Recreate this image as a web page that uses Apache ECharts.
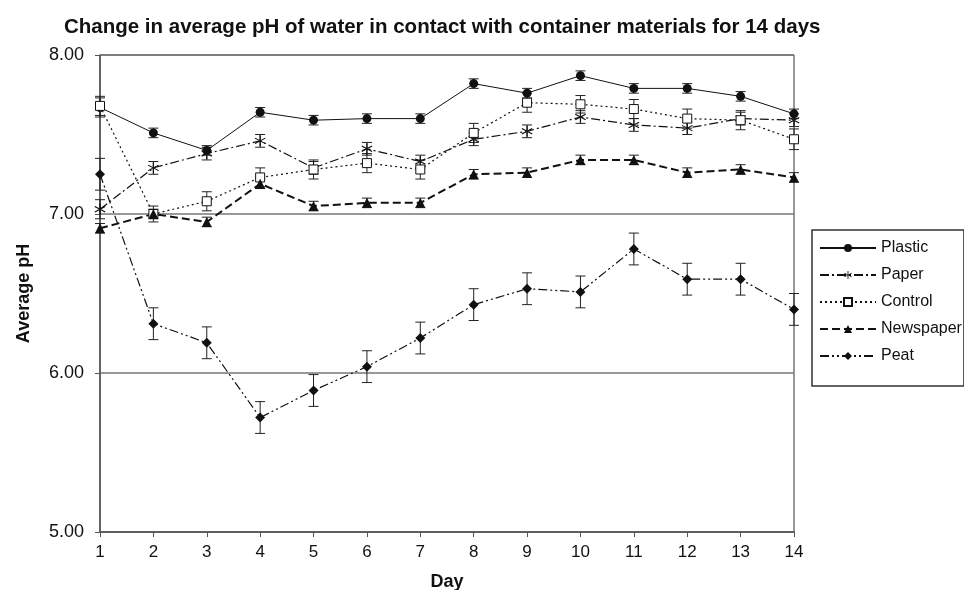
<!DOCTYPE html>
<html>
<head>
<meta charset="utf-8">
<script src="https://cdn.jsdelivr.net/npm/echarts@6/dist/echarts.min.js"></script>
<style>html,body{margin:0;padding:0;background:#fff}#c{width:964px;height:590px}</style>
</head>
<body>
<div id="c"></div>
<script>
var days = [1,2,3,4,5,6,7,8,9,10,11,12,13,14];
var yTicks = [5, 6, 7, 8];
var seriesNames = ['Plastic', 'Paper', 'Control', 'Newspaper', 'Peat'];
var plastic    = [7.67,7.51,7.40,7.64,7.59,7.60,7.60,7.82,7.76,7.87,7.79,7.79,7.74,7.63];
var plasticErr = [0.06,0.03,0.03,0.03,0.03,0.03,0.03,0.03,0.03,0.03,0.03,0.03,0.03,0.03];
var paper      = [7.03,7.29,7.38,7.46,7.29,7.41,7.33,7.47,7.52,7.61,7.56,7.54,7.60,7.59];
var paperErr   = [0.06,0.04,0.04,0.04,0.04,0.04,0.04,0.04,0.04,0.04,0.04,0.04,0.04,0.04];
var control    = [7.68,7.00,7.08,7.23,7.28,7.32,7.28,7.51,7.70,7.69,7.66,7.60,7.59,7.47];
var controlErr = [0.06,0.05,0.06,0.06,0.06,0.06,0.06,0.06,0.06,0.055,0.06,0.06,0.06,0.065];
var newspaper  = [6.91,7.00,6.95,7.19,7.05,7.07,7.07,7.25,7.26,7.34,7.34,7.26,7.28,7.23];
var newsErr    = [0.03,0.03,0.03,0.03,0.03,0.03,0.03,0.03,0.03,0.03,0.03,0.03,0.03,0.03];
var peat       = [7.25,6.31,6.19,5.72,5.89,6.04,6.22,6.43,6.53,6.51,6.78,6.59,6.59,6.40];
var peatErr    = [0.10,0.10,0.10,0.10,0.10,0.10,0.10,0.10,0.10,0.10,0.10,0.10,0.10,0.10];

var FONT = '"Liberation Sans", Arial, sans-serif';
var asterisk = 'path://M-1,-10 L1,-10 L1,10 L-1,10 Z M8.16,5.87 L9.16,4.13 L-8.16,-5.87 L-9.16,-4.13 Z M-9.16,4.13 L-8.16,5.87 L9.16,-4.13 L8.16,-5.87 Z';

function pairs(v){ return days.map(function(d,i){ return [d, v[i]]; }); }
function errData(v, e){ return days.map(function(d,i){ return [d, v[i]-e[i], v[i]+e[i]]; }); }

function errSeries(v, e){
  return {
    type: 'custom', silent: true, z: 1,
    data: errData(v, e),
    encode: {x: 0, y: [1, 2]},
    renderItem: function(params, api){
      var x = api.value(0);
      var lo = api.coord([x, api.value(1)]);
      var hi = api.coord([x, api.value(2)]);
      var cw = 5;
      var st = {stroke: '#222', lineWidth: 1};
      return {type: 'group', children: [
        {type: 'line', shape: {x1: lo[0], y1: lo[1], x2: hi[0], y2: hi[1]}, style: st},
        {type: 'line', shape: {x1: lo[0]-cw, y1: lo[1], x2: lo[0]+cw, y2: lo[1]}, style: st},
        {type: 'line', shape: {x1: hi[0]-cw, y1: hi[1], x2: hi[0]+cw, y2: hi[1]}, style: st}
      ]};
    }
  };
}

function lineSeries(name, v, symbol, size, lineType, lw, fill){
  return {
    name: name, type: 'line', z: 3,
    data: pairs(v),
    symbol: symbol, symbolSize: size,
    lineStyle: {color: '#111', width: lw, type: lineType},
    itemStyle: {color: fill, borderColor: '#111', borderWidth: fill === '#fff' ? 1 : 0},
    emphasis: {disabled: true}
  };
}

var chart = echarts.init(document.getElementById('c'));
chart.setOption({
  animation: false,
  backgroundColor: '#fff',
  title: {
    text: 'Change in average pH of water in contact with container materials for 14 days',
    left: 59, top: 12,
    textStyle: {fontFamily: FONT, fontSize: 20.5, fontWeight: 'bold', color: '#111'}
  },
  grid: {left: 100, right: 170, top: 55, bottom: 58, containLabel: false, outerBoundsMode: 'none', show: true, borderColor: '#333', borderWidth: 1, backgroundColor: 'transparent'},
  legend: {
    orient: 'vertical', left: 812, top: 230,
    data: seriesNames,
    itemWidth: 56, itemHeight: 10, itemGap: 11,
    padding: [10, 2, 22, 7],
    borderColor: '#333', borderWidth: 1.5,
    textStyle: {fontFamily: FONT, fontSize: 16, color: '#111'}
  },
  xAxis: {
    type: 'value', min: 1, max: 14, interval: 1,
    name: 'Day', nameLocation: 'middle', nameGap: 41,
    nameTextStyle: {fontFamily: FONT, fontSize: 18, fontWeight: 'bold', color: '#111'},
    axisLine: {lineStyle: {color: '#555', width: 1.5}},
    axisTick: {show: true, inside: false, length: 5, lineStyle: {color: '#555'}},
    axisLabel: {fontFamily: FONT, fontSize: 17, color: '#111', margin: 12, formatter: function(v){ return days.indexOf(v) >= 0 ? String(v) : ''; }},
    splitLine: {show: false}
  },
  yAxis: {
    type: 'value', min: yTicks[0], max: yTicks[yTicks.length-1], interval: 1,
    name: 'Average pH', nameLocation: 'middle', nameGap: 67,
    nameTextStyle: {fontFamily: FONT, fontSize: 18, fontWeight: 'bold', color: '#111'},
    axisLine: {show: true, lineStyle: {color: '#555', width: 1.5}},
    axisTick: {show: true, inside: false, length: 5, lineStyle: {color: '#555'}},
    axisLabel: {fontFamily: FONT, fontSize: 18, color: '#111', margin: 16, formatter: function(v){ return v.toFixed(2); }},
    splitLine: {show: true, lineStyle: {color: '#777', width: 1.5}}
  },
  series: [
    errSeries(plastic, plasticErr),
    errSeries(paper, paperErr),
    errSeries(control, controlErr),
    errSeries(newspaper, newsErr),
    errSeries(peat, peatErr),
    lineSeries('Plastic', plastic, 'circle', 9, 'solid', 1, '#111'),
    lineSeries('Paper', paper, asterisk, 11, [9, 3, 2, 3], 1.2, '#111'),
    lineSeries('Control', control, 'rect', 9, [2, 3], 1.2, '#fff'),
    lineSeries('Newspaper', newspaper, 'triangle', 10, [8, 4], 2, '#111'),
    lineSeries('Peat', peat, 'diamond', 10, [9, 3, 2, 3, 2, 3], 1.2, '#111')
  ]
});
</script>
</body>
</html>
